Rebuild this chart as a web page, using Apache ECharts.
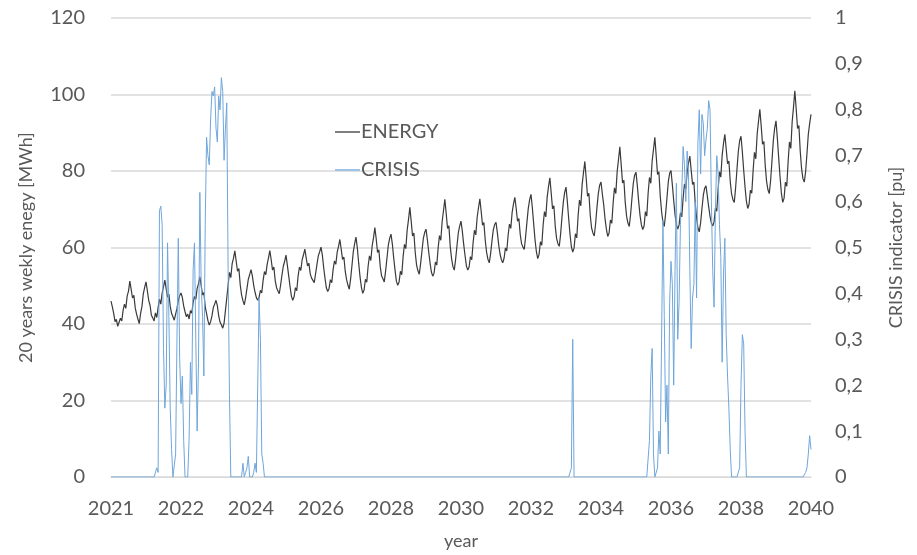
<!DOCTYPE html>
<html>
<head>
<meta charset="utf-8">
<script src="https://cdn.jsdelivr.net/npm/echarts@6/dist/echarts.min.js"></script>
<style>
  html, body { margin: 0; padding: 0; background: #ffffff; }
  #chart { width: 917px; height: 555px; }
</style>
</head>
<body>
<div id="chart"></div>
<script>
// Weekly horizon: 20 years = 1040 weeks, one sample every 2 weeks.
const weeksTotal = 1040;
const sampleStep = 2;

// Labels shown under the axis, one every 104 weeks.
const tickLabels = ['2021', '2022', '2024', '2026', '2028', '2030', '2032', '2034', '2036', '2038', '2040'];

// Weekly energy [MWh], one row per year (26 samples each), last row has the closing sample.
const energy = [
  46.0, 44.5, 42.8, 40.6, 41.2, 39.4, 39.8, 41.5, 40.8, 43.6, 45.2, 44.1, 47.3, 48.6, 51.2, 49.0, 46.8, 47.5, 44.2, 42.6, 41.3, 40.1, 42.8, 44.6, 47.9, 49.6,
  51.0, 48.7, 46.2, 44.9, 42.3, 41.6, 40.8, 42.9, 41.7, 44.3, 46.5, 45.2, 48.1, 49.7, 51.5, 49.2, 47.0, 47.8, 44.6, 42.8, 41.9, 41.0, 42.6, 44.0, 46.1, 47.4,
  48.1, 46.9, 44.7, 43.2, 41.9, 42.6, 41.3, 43.5, 42.8, 45.6, 47.2, 46.4, 49.3, 50.5, 52.3, 50.1, 47.6, 48.2, 44.5, 42.7, 40.9, 39.7, 40.6, 42.1, 44.3, 45.2,
  46.2, 44.8, 42.1, 40.5, 39.8, 38.9, 40.2, 43.5, 46.8, 50.2, 53.5, 52.1, 55.8, 57.2, 59.1, 56.4, 53.8, 54.5, 50.2, 47.6, 46.1, 45.0, 46.8, 49.3, 51.7, 52.9,
  54.2, 52.6, 50.1, 48.3, 46.9, 46.2, 47.0, 48.8, 48.1, 51.4, 53.7, 52.9, 55.6, 57.3, 59.2, 56.8, 54.1, 54.9, 51.3, 49.5, 48.6, 47.9, 50.2, 52.8, 55.1, 56.4,
  58.0, 55.4, 52.6, 49.8, 47.3, 46.2, 47.1, 49.5, 48.7, 52.6, 54.9, 54.0, 56.8, 58.1, 59.6, 57.3, 55.2, 55.9, 53.1, 52.0, 51.4, 50.8, 53.2, 55.6, 57.8, 58.9,
  60.1, 58.0, 54.7, 51.9, 49.4, 48.5, 49.3, 51.6, 50.8, 54.2, 56.5, 55.6, 58.7, 60.2, 62.1, 59.6, 56.9, 57.5, 53.8, 51.6, 50.2, 49.1, 51.8, 55.3, 58.9, 61.0,
  62.7, 59.8, 55.9, 52.3, 49.6, 48.0, 48.9, 51.7, 50.9, 55.1, 57.8, 56.6, 60.4, 62.5, 65.2, 62.3, 58.7, 59.4, 55.0, 52.6, 51.8, 51.0, 53.9, 57.2, 60.6, 62.4,
  63.5, 60.9, 57.3, 54.1, 51.2, 50.1, 51.0, 53.8, 52.9, 57.6, 60.8, 59.7, 64.5, 67.3, 70.5, 66.9, 63.0, 63.8, 58.7, 55.4, 53.9, 53.0, 55.8, 59.1, 62.3, 63.9,
  64.8, 62.1, 58.9, 56.0, 53.6, 52.5, 53.3, 56.2, 55.4, 59.8, 63.1, 61.9, 66.8, 69.6, 72.6, 68.9, 65.0, 65.7, 60.3, 57.1, 55.0, 54.1, 56.9, 60.4, 63.8, 65.6,
  66.9, 64.2, 60.8, 57.9, 55.2, 54.1, 54.9, 57.6, 56.8, 61.3, 64.5, 63.3, 67.9, 70.4, 72.7, 69.4, 65.8, 66.5, 61.9, 58.8, 56.9, 56.0, 58.4, 61.7, 64.6, 66.0,
  66.6, 63.9, 60.7, 58.3, 56.8, 56.0, 57.2, 59.9, 59.1, 63.2, 66.1, 65.0, 69.2, 71.4, 73.1, 70.2, 66.9, 67.6, 63.4, 61.0, 60.1, 59.5, 62.8, 66.7, 70.3, 72.5,
  73.9, 70.4, 66.1, 62.0, 58.9, 57.1, 58.2, 61.5, 60.6, 65.8, 69.4, 68.0, 73.1, 75.9, 78.2, 74.3, 70.1, 70.9, 65.6, 62.4, 61.0, 60.3, 63.5, 67.9, 71.8, 74.4,
  75.8, 72.0, 67.5, 63.4, 60.2, 58.8, 59.9, 63.6, 62.5, 68.3, 72.4, 70.9, 76.5, 79.6, 82.5, 78.1, 73.4, 74.2, 68.5, 65.1, 63.8, 63.0, 66.2, 70.5, 74.1, 76.3,
  77.1, 74.0, 71.2, 67.5, 64.8, 62.9, 63.8, 67.2, 66.3, 71.5, 75.6, 74.1, 79.8, 83.0, 86.3, 81.6, 76.9, 77.6, 71.8, 68.2, 66.4, 65.5, 68.7, 72.9, 76.8, 78.9,
  79.7, 76.1, 72.0, 68.4, 65.9, 64.7, 65.6, 69.4, 68.2, 74.1, 78.3, 76.8, 82.6, 85.7, 88.8, 84.0, 79.1, 79.8, 73.5, 69.4, 66.6, 65.5, 68.8, 73.0, 77.2, 79.4,
  80.1, 76.4, 72.3, 68.6, 66.0, 64.8, 65.9, 69.1, 68.0, 72.9, 76.6, 75.3, 79.7, 82.1, 83.9, 80.2, 76.5, 77.1, 71.6, 67.8, 65.1, 64.1, 66.5, 70.2, 73.6, 75.5,
  76.1, 73.4, 70.6, 68.1, 66.4, 65.6, 66.7, 70.3, 69.5, 75.2, 79.8, 78.4, 84.1, 87.2, 89.6, 85.8, 81.9, 82.6, 77.3, 74.0, 72.5, 71.8, 75.6, 80.4, 85.1, 87.9,
  89.1, 85.0, 80.2, 75.8, 72.1, 70.2, 71.3, 75.0, 74.2, 80.1, 84.9, 83.2, 89.6, 93.0, 96.1, 91.8, 87.0, 87.7, 81.4, 77.3, 75.1, 74.1, 77.5, 82.6, 87.9, 91.2,
  93.1, 88.6, 83.4, 78.5, 74.2, 71.8, 72.9, 77.1, 76.0, 82.4, 87.6, 85.9, 92.8, 96.7, 101.0, 96.2, 91.1, 91.9, 85.2, 80.6, 78.0, 77.1, 79.8, 84.5, 89.6, 92.4, 94.8
];

// Crisis indicator [pu]: zero outside these episodes; each entry is [first sample index, values].
const crisisEpisodes = [
  [33, [0.0, 0.02, 0.01, 0.58, 0.59, 0.55, 0.28, 0.15, 0.2, 0.51, 0.35, 0.15, 0.06, 0.0, 0.0, 0.05, 0.3, 0.52, 0.26, 0.16,
        0.22, 0.08, 0.0, 0.0, 0.0, 0.08, 0.25, 0.18, 0.45, 0.51, 0.3, 0.1, 0.25, 0.62, 0.42, 0.35, 0.22, 0.55, 0.74, 0.70,
        0.68, 0.78, 0.84, 0.83, 0.85, 0.76, 0.73, 0.83, 0.80, 0.87, 0.84, 0.69, 0.76, 0.815, 0.45, 0.18, 0.0]],
  [97, [0.0, 0.03, 0.0, 0.01, 0.02, 0.045, 0.0, 0.0, 0.0, 0.01, 0.03, 0.01, 0.2, 0.39, 0.3, 0.05, 0.03, 0.0]],
  [342, [0.02, 0.30, 0.0]],
  [399, [0.0, 0.08, 0.22, 0.28, 0.05, 0.0, 0.0, 0.02, 0.1, 0.05, 0.3, 0.56, 0.35, 0.12, 0.2, 0.05, 0.38, 0.47, 0.42, 0.2,
         0.45, 0.64, 0.3, 0.38, 0.55, 0.62, 0.72, 0.68, 0.6, 0.71, 0.66, 0.45, 0.28, 0.39, 0.42, 0.6, 0.39, 0.73, 0.8, 0.66,
         0.79, 0.77, 0.7, 0.735, 0.76, 0.82, 0.8, 0.6, 0.45, 0.37, 0.58, 0.70, 0.66, 0.55, 0.48, 0.25, 0.44, 0.52, 0.31, 0.22,
         0.15, 0.06, 0.0, 0.0, 0.0, 0.0, 0.0, 0.0, 0.02, 0.2, 0.31, 0.29, 0.1, 0.0]],
  [516, [0.01, 0.02, 0.05, 0.09, 0.06]]
];

const crisis = new Array(energy.length).fill(0);
crisisEpisodes.forEach(([start, vals]) => {
  vals.forEach((v, k) => { crisis[start + k] = v; });
});

const energyData = energy.map((v, i) => [i * sampleStep, v]);
const crisisData = crisis.map((v, i) => [i * sampleStep, v]);

const textColor = '#595959';
const font = 'Lato, "Open Sans", sans-serif';

const chart = echarts.init(document.getElementById('chart'), null, { renderer: 'canvas' });
chart.setOption({
  animation: false,
  backgroundColor: '#ffffff',
  textStyle: { fontFamily: font, color: textColor },
  grid: { left: 111, right: 106, top: 18, bottom: 77, containLabel: false },
  legend: {
    orient: 'vertical',
    left: 330,
    top: 117,
    itemGap: 18,
    itemWidth: 25,
    itemHeight: 2,
    icon: 'rect',
    textStyle: { fontFamily: font, fontSize: 20, color: textColor, padding: [0, 0, 0, -4] },
    data: ['ENERGY', 'CRISIS']
  },
  xAxis: {
    type: 'value',
    min: 0,
    max: weeksTotal,
    interval: 104,
    name: 'year',
    nameLocation: 'middle',
    nameGap: 55,
    nameTextStyle: { fontFamily: font, fontSize: 18, color: textColor },
    axisLine: { show: true, lineStyle: { color: '#d9d9d9', width: 1 } },
    axisTick: { show: false },
    splitLine: { show: false },
    axisLabel: {
      fontFamily: font, fontSize: 20, color: textColor, margin: 22,
      formatter: (v) => tickLabels[Math.round(v / 104)] || ''
    }
  },
  yAxis: [
    {
      type: 'value',
      min: 0, max: 120, interval: 20,
      name: '20 years wekly enegy [MWh]',
      nameLocation: 'middle',
      nameGap: 76,
      nameTextStyle: { fontFamily: font, fontSize: 18, color: textColor },
      axisLine: { show: false },
      axisTick: { show: false },
      splitLine: { show: true, lineStyle: { color: '#d9d9d9', width: 1.5 } },
      axisLabel: { fontFamily: font, fontSize: 20, color: textColor, margin: 26 }
    },
    {
      type: 'value',
      min: 0, max: 1, interval: 0.1,
      name: 'CRISIS indicator [pu]',
      nameLocation: 'middle',
      nameGap: 76,
      nameTextStyle: { fontFamily: font, fontSize: 18, color: textColor },
      axisLine: { show: false },
      axisTick: { show: false },
      splitLine: { show: false },
      axisLabel: {
        fontFamily: font, fontSize: 20, color: textColor, margin: 24,
        formatter: (v) => {
          if (Math.abs(v) < 1e-9) return '0';
          if (Math.abs(v - 1) < 1e-9) return '1';
          return v.toFixed(1).replace('.', ',');
        }
      }
    }
  ],
  series: [
    {
      name: 'ENERGY',
      type: 'line',
      yAxisIndex: 0,
      data: energyData,
      showSymbol: false,
      symbol: 'none',
      color: '#7f7f7f',
      lineStyle: { color: '#3a3a3a', width: 1.2 },
      z: 2
    },
    {
      name: 'CRISIS',
      type: 'line',
      yAxisIndex: 1,
      data: crisisData,
      showSymbol: false,
      symbol: 'none',
      color: '#9dc3e6',
      lineStyle: { color: '#6fa6da', width: 1 },
      z: 3
    }
  ]
});
</script>
</body>
</html>
